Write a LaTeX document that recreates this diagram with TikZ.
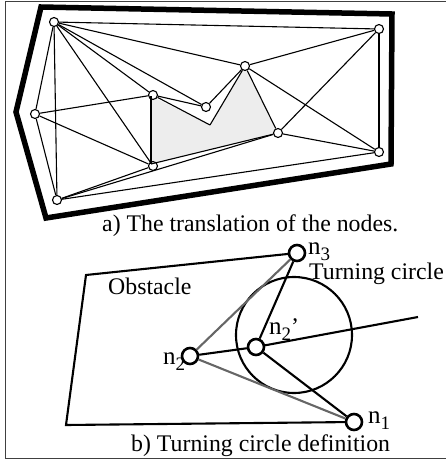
\documentclass[tikz,border=0pt]{standalone}
\usepackage{fontspec}
\setmainfont{Liberation Serif}
\usetikzlibrary{positioning}
\newcommand{\nlabel}[1]{{\fontsize{25}{25}\selectfont n}\raisebox{-6.5pt}{\fontsize{19}{19}\selectfont #1}}

\begin{document}
\begin{tikzpicture}[
  x=1pt, y=-1pt,
  font=\fontsize{23.8}{26}\selectfont,
  vertex/.style={draw=black, fill=white, circle, line width=1.1pt, minimum size=9pt, inner sep=0pt},
  bigvertex/.style={draw=black, fill=white, circle, line width=2.6pt, minimum size=16pt, inner sep=0pt},
  thinedge/.style={draw=black, line width=1.1pt},
  boldedge/.style={draw=black, line width=2.1pt},
  tangent/.style={draw=gray!80!black, line width=2.1pt},
  tag/.style={anchor=base west, inner sep=0pt}
]
\useasboundingbox (0,0) rectangle (446,461);

% outer frame, open on the right
\draw[line width=1pt, draw=black!75] (446,1) -- (5.5,1) -- (5.5,458) -- (446,458);

% a) thick boundary
\draw[line width=5.5pt, miter limit=10] (41,7) -- (392,14) -- (391,164) -- (46,218) -- (16,112) -- cycle;

% corners of the shaded obstacle
\coordinate (notch) at (210,125);
\coordinate (obstA) at (151,96);
\coordinate (obstB) at (151,164);
\fill[black!7] (obstA) -- (notch) -- (245,66) -- (278,133) -- (obstB) -- cycle;

% a) nodes
\node[vertex] (a1) at (54,22)   {};
\node[vertex] (a2) at (35,114)  {};
\node[vertex] (a3) at (57,200)  {};
\node[vertex] (a4) at (153,95)  {};
\node[vertex] (a5) at (206,107) {};
\node[vertex] (a6) at (153,166) {};
\node[vertex] (a7) at (245,66)  {};
\node[vertex] (a8) at (278,133) {};
\node[vertex] (a9) at (379,29)  {};
\node[vertex] (a10) at (379,152) {};

% a) edges
\draw[thinedge] (a1) -- (a2);
\draw[thinedge] (a1) -- (a3);
\draw[thinedge] (a1) -- (a4);
\draw[thinedge] (a1) -- (a5);
\draw[thinedge] (a1) -- (a6);
\draw[thinedge] (a1) -- (a7);
\draw[thinedge] (a1) -- (a9);
\draw[thinedge] (a2) -- (a3);
\draw[thinedge] (a2) -- (a4);
\draw[thinedge] (a2) -- (a6);
\draw[thinedge] (a3) -- (a6);
\draw[thinedge] (a3) -- (a8);
\draw[thinedge] (a3) -- (a10);
\draw[thinedge] (a4) -- (a5);
\draw[thinedge] (a4) -- (notch);
\draw[thinedge] (notch) -- (a7);
\draw[thinedge] (a5) -- (a7);
\draw[thinedge] (obstA) -- (obstB);
\draw[thinedge] (obstB) -- (a8);
\draw[thinedge] (a7) -- (a8);
\draw[thinedge] (a7) -- (a9);
\draw[thinedge] (a7) -- (a10);
\draw[thinedge] (a8) -- (a9);
\draw[thinedge] (a8) -- (a10);
\draw[thinedge] (a9) -- (a10);

\node[tag] (capa) at (102,231) {a) The translation of the nodes.};

% b) turning circle
\coordinate (cornerT) at (86,275);
\coordinate (cornerB) at (66,425);
\coordinate (rayend) at (418,317);
\node[draw=black, circle, line width=2.1pt, minimum size=116pt, inner sep=0pt] (turn) at (294,335) {};

\draw[boldedge] (297,253) -- (cornerT) -- (cornerB) -- (354,422);

\node[tag] (lab2) at (163,364) {\nlabel{2}};

\node[bigvertex] (n1) at (354,422) {};
\node[bigvertex] (n2) at (190,356) {};
\node[bigvertex] (n3) at (297,253) {};
\node[bigvertex] (n2p) at (256,347) {};

\draw[tangent] (n2) -- (n3);
\draw[tangent] (n2) -- (n1);
\draw[boldedge] (n2) -- (n2p);
\draw[boldedge] (n2p) -- (rayend);
\draw[boldedge] (n2p) -- (n3);
\draw[boldedge] (n2p) -- (n1);

\node[tag] (obst) at (108,294) {Obstacle};
\node[tag] (circ) at (309,279) {Turning circle};
\node[tag] (lab1) at (368,423) {\nlabel{1}};
\node[tag] (lab3) at (308,254) {\nlabel{3}};
\node[tag] (lab2p) at (269,334) {\nlabel{2}'};
\node[tag] (capb) at (131,451) {b) Turning circle definition};

\end{tikzpicture}
\end{document}
